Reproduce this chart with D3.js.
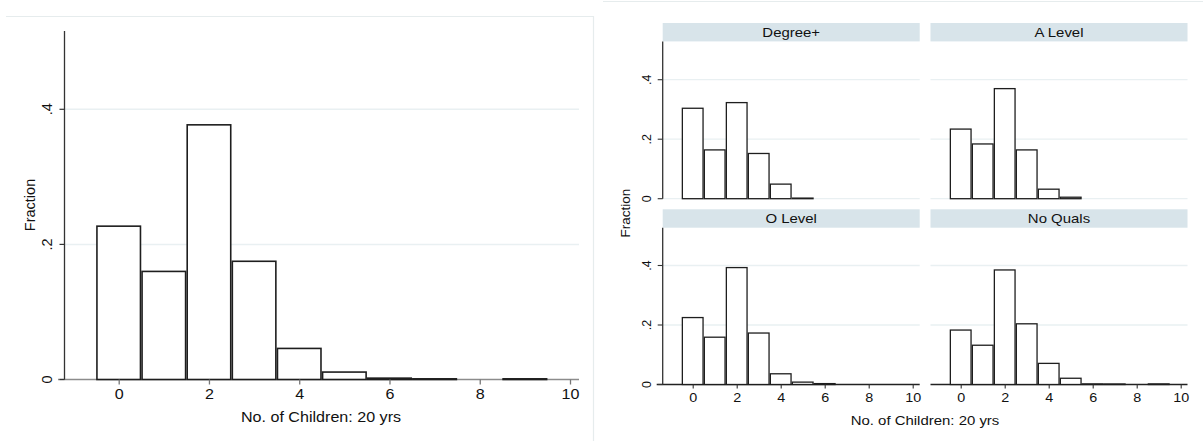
<!DOCTYPE html>
<html>
<head>
<meta charset="utf-8">
<script src="https://cdn.jsdelivr.net/npm/d3@7"></script>
<style>
  html, body { margin: 0; padding: 0; background: #fff; }
  svg { display: block; font-family: "Liberation Sans", Arial, sans-serif; }
</style>
</head>
<body>
<svg id="chart" width="1203" height="441"></svg>
<script>
// ---------------- DATA ----------------
const children = [0, 1, 2, 3, 4, 5, 6, 7, 8, 9];
const overallFraction = [0.227, 0.160, 0.377, 0.175, 0.046, 0.011, 0.002, 0.001, 0, 0.001];

const facetNames = ["Degree+", "A Level", "O Level", "No Quals"];
const degreeFraction  = [0.304, 0.164, 0.323, 0.152, 0.049, 0.002, 0, 0, 0, 0];
const aLevelFraction  = [0.234, 0.184, 0.370, 0.164, 0.032, 0.005, 0, 0, 0, 0];
const oLevelFraction  = [0.225, 0.159, 0.393, 0.173, 0.036, 0.008, 0.003, 0, 0, 0];
const noQualsFraction = [0.183, 0.132, 0.385, 0.204, 0.071, 0.021, 0.002, 0.001, 0, 0.002];
const facetSeries = [degreeFraction, aLevelFraction, oLevelFraction, noQualsFraction];

const xTicks = [0, 2, 4, 6, 8, 10];
const yTicks = [0, 0.2, 0.4];
const yTickLabels = ["0", ".2", ".4"];
const xTitle = "No. of Children: 20 yrs";
const yTitle = "Fraction";

// ---------------- DRAWING ----------------
const svg = d3.select("#chart");
const gridColor = "#e9f0f2";
const frameColor = "#e6eced";
const barStroke = "#1e1e1e";
const stretch = 1.15; // text in the picture is slightly wide

function hText(parent, x, y, str, size) {
  return parent.append("text")
    .attr("transform", `translate(${x},${y}) scale(${stretch},1)`)
    .attr("text-anchor", "middle").attr("font-size", size).attr("fill", "#111")
    .text(str);
}

// faint screenshot frames
svg.append("line").attr("x1", 6).attr("x2", 593).attr("y1", 16.5).attr("y2", 16.5)
  .attr("stroke", frameColor).attr("stroke-width", 1.2);
svg.append("line").attr("x1", 593.5).attr("x2", 593.5).attr("y1", 16).attr("y2", 441)
  .attr("stroke", frameColor).attr("stroke-width", 1.2);
svg.append("line").attr("x1", 603).attr("x2", 1203).attr("y1", 1.5).attr("y2", 1.5)
  .attr("stroke", frameColor).attr("stroke-width", 1.2);

function drawBars(g, x, y, values, sw) {
  const data = children.map((c, i) => ({ c, v: values[i] })).filter(d => d.v > 0);
  const inset = sw / 2;
  g.selectAll("rect.bar").data(data).enter().append("rect")
    .attr("class", "bar")
    .attr("x", d => x(d.c - 0.5) + inset)
    .attr("width", d => x(d.c + 0.5) - x(d.c - 0.5) - 2 * inset)
    .attr("y", d => Math.min(y(d.v), y(0) - 0.5))
    .attr("height", d => Math.max(y(0) - y(d.v), 0.5))
    .attr("fill", "#fff")
    .attr("stroke", barStroke)
    .attr("stroke-width", sw);
}

// ---------- LEFT PANEL ----------
(function () {
  const g = svg.append("g");
  const x = d3.scaleLinear().domain([0, 10]).range([118.7, 570]);
  const y = d3.scaleLinear().domain([0, 0.4]).range([379.5, 109.3]);
  const axX = 64.5, axLeft = 58, axRight = 579, axTop = 31;

  g.selectAll("line.grid").data(yTicks.filter(t => t > 0)).enter().append("line")
    .attr("x1", axX).attr("x2", axRight)
    .attr("y1", d => y(d)).attr("y2", d => y(d))
    .attr("stroke", gridColor).attr("stroke-width", 1.5);

  g.append("line").attr("x1", axLeft).attr("x2", axRight).attr("y1", y(0)).attr("y2", y(0))
    .attr("stroke", "#8c8c8c").attr("stroke-width", 1.5);

  drawBars(g, x, y, overallFraction, 1.6);

  g.append("line").attr("x1", axX).attr("x2", axX).attr("y1", axTop).attr("y2", y(0))
    .attr("stroke", "#333").attr("stroke-width", 1.3);
  g.selectAll("line.yt").data(yTicks).enter().append("line")
    .attr("x1", axX - 5).attr("x2", axX).attr("y1", d => y(d)).attr("y2", d => y(d))
    .attr("stroke", "#333").attr("stroke-width", 1.2);
  g.selectAll("text.yl").data(yTicks).enter().append("text")
    .attr("transform", d => `translate(${axX - 13},${y(d)}) rotate(-90)`)
    .attr("text-anchor", "middle")
    .attr("font-size", 14.5).attr("fill", "#111")
    .text((d, i) => yTickLabels[i]);
  g.append("text")
    .attr("transform", `translate(35,205) rotate(-90)`)
    .attr("text-anchor", "middle").attr("font-size", 14.5).attr("fill", "#111")
    .text(yTitle);

  const xa = d3.axisBottom(x).tickValues(xTicks).tickSize(5).tickPadding(5).tickFormat(d3.format("d"));
  const ag = g.append("g").attr("transform", `translate(0,${y(0)})`).call(xa);
  ag.select(".domain").remove();
  ag.selectAll(".tick line").attr("stroke", "#777").attr("stroke-width", 1.3);
  ag.selectAll(".tick text").attr("font-size", 14).attr("fill", "#111")
    .attr("transform", `scale(${stretch},1)`)
    .attr("font-family", "Liberation Sans, Arial, sans-serif");
  hText(g, 321, 422, xTitle, 14);
})();

// ---------- RIGHT PANEL (facets) ----------
(function () {
  const colLeft = [662.7, 930.5];
  const colWidth = 257;
  const colZero = [692.7, 960.7];
  const unit = 22.0;
  const stripTop = [23, 209.3];
  const stripH = 18.4;
  const rowZero = [198.7, 384.5];
  const pxPer04 = 119;

  facetNames.forEach((name, k) => {
    const row = Math.floor(k / 2), col = k % 2;
    const g = svg.append("g");
    const x = d3.scaleLinear().domain([0, 10]).range([colZero[col], colZero[col] + 10 * unit]);
    const y = d3.scaleLinear().domain([0, 0.4]).range([rowZero[row], rowZero[row] - pxPer04]);
    const left = colLeft[col], right = colLeft[col] + colWidth;
    const top = stripTop[row] + stripH;

    g.append("rect").attr("x", left).attr("y", stripTop[row]).attr("width", colWidth).attr("height", stripH)
      .attr("fill", "#d8e4ea");
    hText(g, left + colWidth / 2, stripTop[row] + stripH / 2 + 4.6, name, 13);

    const gl = row === 0 ? yTicks : yTicks.filter(t => t > 0);
    g.selectAll("line.grid").data(gl).enter().append("line")
      .attr("x1", left).attr("x2", right)
      .attr("y1", d => y(d)).attr("y2", d => y(d))
      .attr("stroke", gridColor).attr("stroke-width", 1.3);

    if (row === 1) {
      g.append("line").attr("x1", col === 0 ? left - 6 : left).attr("x2", right)
        .attr("y1", y(0)).attr("y2", y(0)).attr("stroke", "#222").attr("stroke-width", 1.3);
    }

    drawBars(g, x, y, facetSeries[k], 1.3);

    if (col === 0) {
      g.append("line").attr("x1", left).attr("x2", left).attr("y1", top).attr("y2", y(0))
        .attr("stroke", "#333").attr("stroke-width", 1.3);
      g.selectAll("line.yt").data(yTicks).enter().append("line")
        .attr("x1", left - 5).attr("x2", left).attr("y1", d => y(d)).attr("y2", d => y(d))
        .attr("stroke", "#333").attr("stroke-width", 1.1);
      g.selectAll("text.yl").data(yTicks).enter().append("text")
        .attr("transform", d => `translate(${left - 12},${y(d)}) rotate(-90)`)
        .attr("text-anchor", "middle").attr("font-size", 12.5).attr("fill", "#111")
        .text((d, i) => yTickLabels[i]);
    }

    if (row === 1) {
      const xa = d3.axisBottom(x).tickValues(xTicks).tickSize(4).tickPadding(5).tickFormat(d3.format("d"));
      const ag = g.append("g").attr("transform", `translate(0,${y(0)})`).call(xa);
      ag.select(".domain").remove();
      ag.selectAll(".tick line").attr("stroke", "#333").attr("stroke-width", 1.1);
      ag.selectAll(".tick text").attr("font-size", 12.5).attr("fill", "#111")
        .attr("transform", `scale(${stretch},1)`)
        .attr("font-family", "Liberation Sans, Arial, sans-serif");
    }
  });

  hText(svg, 925, 425, xTitle, 13);
  svg.append("text").attr("transform", "translate(630,213) rotate(-90)")
    .attr("text-anchor", "middle").attr("font-size", 13.5).attr("fill", "#111").text(yTitle);
})();
</script>
</body>
</html>
